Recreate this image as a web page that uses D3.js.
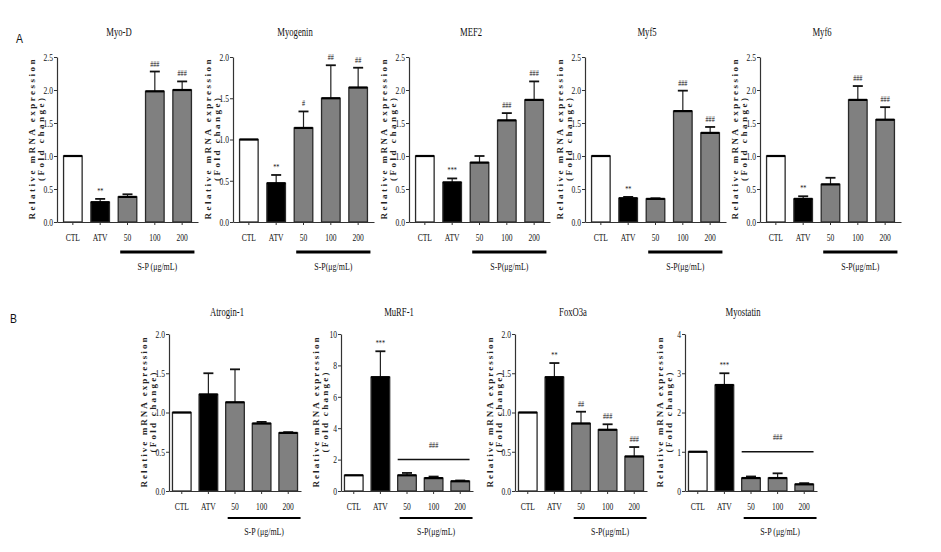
<!DOCTYPE html>
<html><head><meta charset="utf-8">
<script src="https://cdn.jsdelivr.net/npm/d3@7"></script>
<style>body{margin:0;background:#fff}</style>
</head><body><svg id="c" width="941" height="552"></svg>
<script>
// ---------- DATA ----------
const groups = ["CTL", "ATV", "50", "100", "200"];
const groupFills = ["#ffffff", "#000000", "#808080", "#808080", "#808080"];

const ticksA25 = [0, 0.5, 1.0, 1.5, 2.0, 2.5];
const ticksA20 = [0, 0.5, 1.0, 1.5, 2.0];
const ticksMuRF = [0, 2, 4, 6, 8, 10];
const ticksMyostatin = [0, 1, 2, 3, 4];

const myoDMean = [1.0, 0.30, 0.38, 1.98, 2.00];
const myoDErr  = [0, 0.05, 0.04, 0.30, 0.13];
const myoDMarks = ["", "**", "", "###", "###"];

const myogeninMean = [1.0, 0.47, 1.14, 1.50, 1.63];
const myogeninErr  = [0, 0.10, 0.20, 0.40, 0.24];
const myogeninMarks = ["", "**", "#", "##", "##"];

const mef2Mean = [1.0, 0.60, 0.90, 1.54, 1.85];
const mef2Err  = [0, 0.06, 0.10, 0.11, 0.28];
const mef2Marks = ["", "***", "", "###", "###"];

const myf5Mean = [1.0, 0.36, 0.35, 1.68, 1.35];
const myf5Err  = [0, 0.02, 0.01, 0.31, 0.09];
const myf5Marks = ["", "**", "", "###", "###"];

const myf6Mean = [1.0, 0.35, 0.57, 1.85, 1.55];
const myf6Err  = [0, 0.04, 0.10, 0.21, 0.19];
const myf6Marks = ["", "**", "", "###", "###"];

const atroginMean = [1.0, 1.23, 1.13, 0.86, 0.74];
const atroginErr  = [0, 0.27, 0.42, 0.02, 0.01];
const atroginMarks = ["", "", "", "", ""];

const murfMean = [1.0, 7.25, 1.0, 0.82, 0.62];
const murfErr  = [0, 1.65, 0.15, 0.10, 0.05];
const murfMarks = ["", "***", "", "", ""];

const foxoMean = [1.0, 1.45, 0.86, 0.78, 0.44];
const foxoErr  = [0, 0.18, 0.15, 0.07, 0.12];
const foxoMarks = ["", "**", "##", "###", "###"];

const myostatinMean = [1.0, 2.70, 0.33, 0.33, 0.17];
const myostatinErr  = [0, 0.30, 0.04, 0.12, 0.03];
const myostatinMarks = ["", "***", "", "", ""];

const chartsA = [
  {title: "Myo-D", mean: myoDMean, err: myoDErr, marks: myoDMarks, yMax: 2.5, ticks: ticksA25, fmt: ".1f", sp: "S-P (μg/mL)"},
  {title: "Myogenin", mean: myogeninMean, err: myogeninErr, marks: myogeninMarks, yMax: 2.0, ticks: ticksA20, fmt: ".1f", sp: "S-P(μg/mL)"},
  {title: "MEF2", mean: mef2Mean, err: mef2Err, marks: mef2Marks, yMax: 2.5, ticks: ticksA25, fmt: ".1f", sp: "S-P(μg/mL)"},
  {title: "Myf5", mean: myf5Mean, err: myf5Err, marks: myf5Marks, yMax: 2.5, ticks: ticksA25, fmt: ".1f", sp: "S-P(μg/mL)"},
  {title: "Myf6", mean: myf6Mean, err: myf6Err, marks: myf6Marks, yMax: 2.5, ticks: ticksA25, fmt: ".1f", sp: "S-P(μg/mL)"}
];
const chartsB = [
  {title: "Atrogin-1", mean: atroginMean, err: atroginErr, marks: atroginMarks, yMax: 2.0, ticks: ticksA20, fmt: ".1f", sp: "S-P (μg/mL)"},
  {title: "MuRF-1", mean: murfMean, err: murfErr, marks: murfMarks, yMax: 10, ticks: ticksMuRF, fmt: "d", sp: "S-P(μg/mL)", groupLine: 2, groupMark: "###"},
  {title: "FoxO3a", mean: foxoMean, err: foxoErr, marks: foxoMarks, yMax: 2.0, ticks: ticksA20, fmt: ".1f", sp: "S-P(μg/mL)"},
  {title: "Myostatin", mean: myostatinMean, err: myostatinErr, marks: myostatinMarks, yMax: 4, ticks: ticksMyostatin, fmt: "d", sp: "S-P (μg/mL)", groupLine: 1, groupMark: "###"}
];

// ---------- LAYOUT ----------
const SERIF = "'Liberation Serif', 'Times New Roman', serif";
const SX = 0.72; // horizontal condensing of the figure text
const svg = d3.select("#c");

const layoutA = {axes: [57, 233, 409, 585, 760], top: 57, bottom: 222, W: 141, pi: 0.32, po: 0.24,
  titleDx: 62, titleY: 36, lab1: 160, lab2: 83, spLineDy: 30, spTextDy: 48, spW: 3};
const layoutB = {axes: [169, 341, 515, 685], top: 334, bottom: 491, W: 132, pi: 0.30, po: 0.13,
  titleDx: 58, titleY: 316, lab1: 150, lab2: 80, spLineDy: 27, spTextDy: 44, spW: 2};

function ctext(parent, x, y, str, size, anchor, weight) {
  return parent.append("text")
    .attr("transform", `translate(${x},${y}) scale(${SX},1)`)
    .attr("text-anchor", anchor || "middle")
    .attr("font-family", SERIF)
    .attr("font-size", size)
    .attr("font-weight", weight || "normal")
    .attr("fill", "#111")
    .text(str);
}

function drawChart(c, ax, L) {
  const g = svg.append("g");
  const x = d3.scaleBand().domain(groups).range([ax, ax + L.W]).paddingInner(L.pi).paddingOuter(L.po);
  const y = d3.scaleLinear().domain([0, c.yMax]).range([L.bottom, L.top]);
  const bw = x.bandwidth();

  // bars + error bars
  groups.forEach((k, i) => {
    const bx = x(k), v = c.mean[i], e = c.err[i], cx = bx + bw / 2;
    if (e > 0) {
      g.append("line").attr("x1", cx).attr("x2", cx).attr("y1", y(v)).attr("y2", y(v + e))
        .attr("stroke", "#222").attr("stroke-width", 1.2);
      g.append("line").attr("x1", cx - 5).attr("x2", cx + 5).attr("y1", y(v + e)).attr("y2", y(v + e))
        .attr("stroke", "#111").attr("stroke-width", 1.8);
    }
    g.append("rect").attr("x", bx).attr("y", y(v)).attr("width", bw).attr("height", L.bottom - y(v))
      .attr("fill", groupFills[i]).attr("stroke", "#2a2a2a").attr("stroke-width", 1.3);
    g.append("line").attr("x1", bx).attr("x2", bx + bw).attr("y1", y(v)).attr("y2", y(v))
      .attr("stroke", "#000").attr("stroke-width", 2.2);
    if (c.marks[i]) {
      ctext(g, cx, y(v + e) - 5, c.marks[i], 8.5);
    }
  });

  // y axis
  const ya = g.append("g").attr("transform", `translate(${ax},0)`)
    .call(d3.axisLeft(y).tickValues(c.ticks).tickSize(3).tickSizeOuter(0).tickFormat(d3.format(c.fmt)));
  ya.select(".domain").attr("stroke", "#333").attr("stroke-width", 1.2);
  ya.selectAll(".tick line").attr("stroke", "#333");
  ya.selectAll(".tick text").attr("font-family", SERIF).attr("font-size", 10.5).attr("fill", "#111")
    .attr("x", -4 / SX).attr("transform", `scale(${SX},1)`);

  // x axis
  const xa = g.append("g").attr("transform", `translate(0,${L.bottom})`)
    .call(d3.axisBottom(x).tickSize(3).tickSizeOuter(0).tickPadding(9));
  xa.select(".domain").attr("stroke", "#333").attr("stroke-width", 1.2);
  xa.selectAll(".tick line").attr("stroke", "#333");
  xa.selectAll(".tick text").attr("font-family", SERIF).attr("font-size", 10.5).attr("fill", "#111")
    .attr("transform", `scale(${SX},1)`);

  // title
  ctext(g, ax + L.titleDx, L.titleY, c.title, 12);

  // y label
  const cy = (L.top + L.bottom) / 2;
  g.append("text").attr("transform", `translate(${ax - 22},${cy}) rotate(-90)`)
    .attr("text-anchor", "middle").attr("font-family", SERIF).attr("font-size", 9).attr("font-weight", "bold")
    .attr("fill", "#222").attr("textLength", L.lab1).attr("lengthAdjust", "spacing")
    .text("Relative mRNA expression");
  g.append("text").attr("transform", `translate(${ax - 13},${cy}) rotate(-90)`)
    .attr("text-anchor", "middle").attr("font-family", SERIF).attr("font-size", 9).attr("font-weight", "bold")
    .attr("fill", "#222").attr("textLength", L.lab2).attr("lengthAdjust", "spacing")
    .text("(Fold change)");

  // S-P bracket
  const x1 = x("50") + 2, x2 = x("200") + bw + 3;
  g.append("line").attr("x1", x1).attr("x2", x2).attr("y1", L.bottom + L.spLineDy).attr("y2", L.bottom + L.spLineDy)
    .attr("stroke", "#000").attr("stroke-width", L.spW);
  ctext(g, (x1 + x2) / 2, L.bottom + L.spTextDy, c.sp, 11);

  // group significance line
  if (c.groupLine !== undefined) {
    const gx1 = x("50"), gx2 = x("200") + bw;
    g.append("line").attr("x1", gx1).attr("x2", gx2).attr("y1", y(c.groupLine)).attr("y2", y(c.groupLine))
      .attr("stroke", "#111").attr("stroke-width", 1.5);
    ctext(g, (gx1 + gx2) / 2, y(c.groupLine) - 12, c.groupMark, 8.5);
  }
}

chartsA.forEach((c, i) => drawChart(c, layoutA.axes[i], layoutA));
chartsB.forEach((c, i) => drawChart(c, layoutB.axes[i], layoutB));

// panel letters
svg.append("text").attr("transform", "translate(16,43) scale(0.8,1)").attr("font-family", "'Liberation Sans', Arial, sans-serif")
  .attr("font-size", 13).attr("fill", "#111").text("A");
svg.append("text").attr("transform", "translate(10,323) scale(0.8,1)").attr("font-family", "'Liberation Sans', Arial, sans-serif")
  .attr("font-size", 13).attr("fill", "#111").text("B");
</script></body></html>
